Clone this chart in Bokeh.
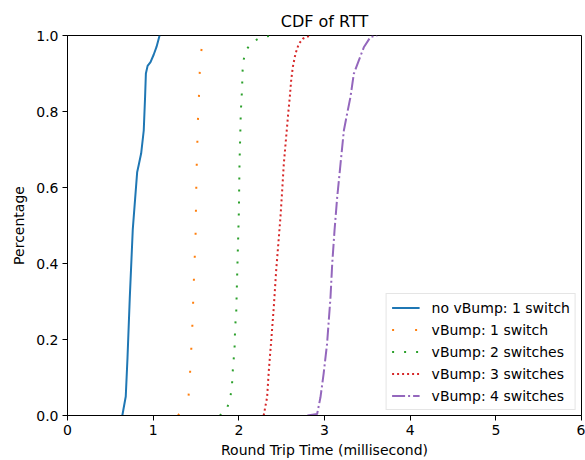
from bokeh.plotting import figure
from bokeh.models import Range1d, Legend, LegendItem, FixedTicker, PrintfTickFormatter
from bokeh.embed import file_html
from bokeh.resources import INLINE

# CDF curves: (x = RTT in ms, y = cumulative fraction)
blue_x = [0.64, 0.68, 0.70, 0.727, 0.762, 0.813, 0.832, 0.86, 0.89, 0.906, 0.915, 0.935, 0.969, 1.007, 1.039, 1.075]
blue_y = [0.0, 0.05, 0.15, 0.31, 0.49, 0.64, 0.66, 0.69, 0.75, 0.84, 0.90, 0.92, 0.93, 0.95, 0.97, 1.0]

orange_x = [1.29, 1.41, 1.428, 1.455, 1.482, 1.494, 1.502, 1.506, 1.514, 1.521, 1.533, 1.541, 1.553, 1.58, 1.63]
orange_y = [0.0, 0.04, 0.10, 0.22, 0.40, 0.46, 0.58, 0.64, 0.70, 0.77, 0.83, 0.89, 0.95, 0.98, 1.0]

green_x = [1.778, 1.856, 1.895, 1.918, 1.934, 1.949, 1.957, 1.969, 1.98, 1.988, 2.0, 2.004, 2.008, 2.016, 2.023, 2.031, 2.039, 2.041, 2.051, 2.078, 2.144, 2.245, 2.378]
green_y = [0.0, 0.015, 0.041, 0.072, 0.136, 0.168, 0.234, 0.266, 0.366, 0.432, 0.532, 0.598, 0.665, 0.733, 0.798, 0.832, 0.864, 0.898, 0.93, 0.959, 0.98, 0.994, 1.0]

red_x = [2.29, 2.33, 2.35, 2.378, 2.408, 2.436, 2.467, 2.486, 2.506, 2.525, 2.549, 2.576, 2.595, 2.611, 2.63, 2.661, 2.70, 2.75, 2.836]
red_y = [0.0, 0.048, 0.118, 0.197, 0.285, 0.382, 0.469, 0.522, 0.592, 0.662, 0.724, 0.794, 0.838, 0.882, 0.917, 0.952, 0.978, 0.992, 1.0]

purple_x = [2.80, 2.914, 2.953, 2.99, 3.03, 3.07, 3.09, 3.117, 3.148, 3.187, 3.226, 3.264, 3.303, 3.342, 3.40, 3.459, 3.537, 3.615]
purple_y = [0.0, 0.004, 0.048, 0.11, 0.189, 0.311, 0.399, 0.487, 0.574, 0.662, 0.75, 0.794, 0.838, 0.899, 0.934, 0.969, 0.996, 1.0]

labels = ["no vBump: 1 switch", "vBump: 1 switch", "vBump: 2 switches", "vBump: 3 switches", "vBump: 4 switches"]
x_ticks = [0, 1, 2, 3, 4, 5, 6]
y_ticks = [0.0, 0.2, 0.4, 0.6, 0.8, 1.0]

FONT = "DejaVu Sans"

p = figure(width=585, height=460, output_backend="svg", toolbar_location=None,
           x_range=Range1d(0, 6), y_range=Range1d(0, 1),
           title="CDF of RTT",
           min_border_left=67, min_border_right=4, min_border_top=35, min_border_bottom=10)

p.title.align = "center"
p.title.text_font = FONT
p.title.text_font_size = "16px"
p.title.text_font_style = "normal"
p.title.text_color = "black"

p.xgrid.visible = False
p.ygrid.visible = False
p.outline_line_color = "black"
p.outline_line_width = 1
p.outline_line_alpha = 1

for ax in (p.xaxis[0], p.yaxis[0]):
    ax.major_tick_in = 0
    ax.major_tick_out = 5
    ax.minor_tick_line_color = None
    ax.axis_line_color = "black"
    ax.major_tick_line_color = "black"
    ax.major_label_text_font = FONT
    ax.major_label_text_font_size = "14px"
    ax.major_label_text_color = "black"
    ax.axis_label_text_font = FONT
    ax.axis_label_text_font_size = "14px"
    ax.axis_label_text_font_style = "normal"
    ax.axis_label_text_color = "black"

p.xaxis.ticker = FixedTicker(ticks=x_ticks)
p.yaxis.ticker = FixedTicker(ticks=y_ticks)
p.yaxis.formatter = PrintfTickFormatter(format="%.1f")
p.xaxis.axis_label = "Round Trip Time (millisecond)"
p.yaxis.axis_label = "Percentage"
p.xaxis.major_label_standoff = 4
p.yaxis.major_label_standoff = 4
p.xaxis.axis_label_standoff = 4
p.yaxis.axis_label_standoff = 6

r1 = p.line(blue_x, blue_y, line_color="#1f77b4", line_width=2)
r2 = p.line(orange_x, orange_y, line_color="#ff7f0e", line_width=2, line_dash="2 21")
r3 = p.line(green_x, green_y, line_color="#2ca02c", line_width=2, line_dash="2 10")
r4 = p.line(red_x, red_y, line_color="#d62728", line_width=2, line_dash="2 3")
r5 = p.line(purple_x, purple_y, line_color="#9467bd", line_width=2, line_dash="13 3 2 3")

legend = Legend(items=[LegendItem(label=l, renderers=[r]) for l, r in zip(labels, [r1, r2, r3, r4, r5])],
                location="bottom_right")
legend.label_text_font = FONT
legend.label_text_font_size = "14px"
legend.label_text_color = "black"
legend.glyph_width = 28
legend.glyph_height = 17
legend.label_height = 17
legend.label_standoff = 12
legend.spacing = 5
legend.padding = 5
legend.margin = 5
legend.border_line_color = "#cccccc"
legend.border_line_width = 1
legend.background_fill_alpha = 0.8
p.add_layout(legend)

open("out.html", "w").write(file_html(p, INLINE))
